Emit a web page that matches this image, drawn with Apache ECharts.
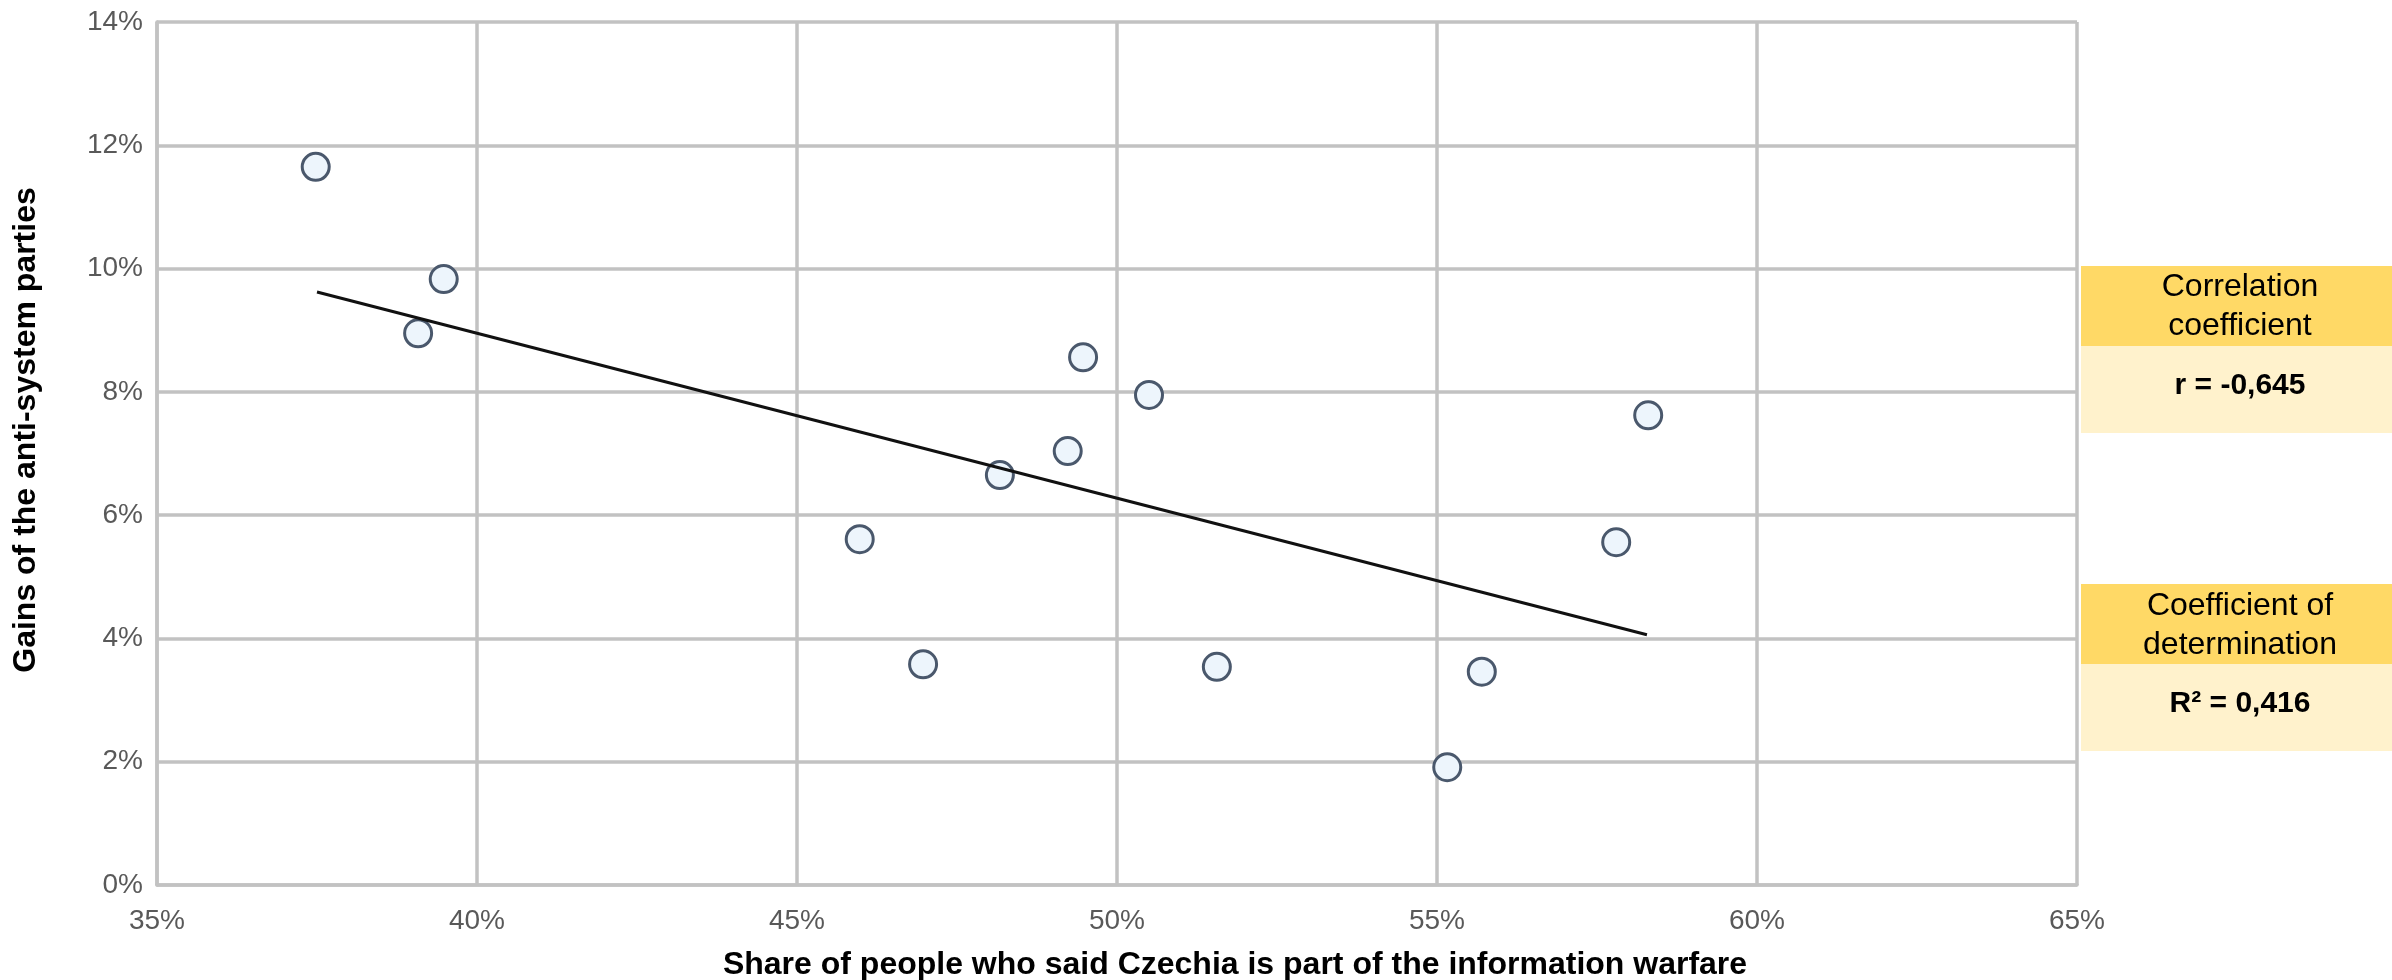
<!DOCTYPE html>
<html>
<head>
<meta charset="utf-8">
<script src="https://cdn.jsdelivr.net/npm/echarts@6/dist/echarts.min.js"></script>
<style>
html,body{margin:0;padding:0;background:#fff;}
#chart{width:2392px;height:980px;}
</style>
</head>
<body>
<div id="chart"></div>
<script>
// Share of people who said Czechia is part of the information warfare (%)
const shareWarfare = [37.48, 39.48, 39.08, 45.98, 46.97, 48.17, 49.23, 49.47, 50.5, 51.56, 55.16, 55.7, 57.8, 58.3];
// Gains of the anti-system parties (%)
const antiSystemGains = [11.65, 9.83, 8.95, 5.61, 3.58, 6.65, 7.04, 8.56, 7.95, 3.54, 1.91, 3.46, 5.56, 7.62];
// Trend line endpoints
const trendX = [37.5, 58.28];
const trendY = [9.62, 4.06];
// Axis ticks
const xTicks = [35, 40, 45, 50, 55, 60, 65];
const yTicks = [0, 2, 4, 6, 8, 10, 12, 14];
// Statistics boxes
const corrTitle = 'Correlation\ncoefficient';
const corrValue = 'r = -0,645';
const detTitle = 'Coefficient of\ndetermination';
const detValue = 'R² = 0,416';
const xTitle = 'Share of people who said Czechia is part of the information warfare';
const yTitle = 'Gains of the anti-system parties';

const FONT = '"Liberation Sans", Arial, sans-serif';
const gridColor = '#c2c2c2';

const chart = echarts.init(document.getElementById('chart'), null, {renderer: 'canvas'});

const points = shareWarfare.map((x, i) => [x, antiSystemGains[i]]);
const trend = trendX.map((x, i) => [x, trendY[i]]);

const boxLeft = 2081, boxW = 311, textCx = 2240;

chart.setOption({
  animation: false,
  backgroundColor: '#ffffff',
  grid: {left: 157, top: 22, right: 315, bottom: 95, containLabel: false},
  xAxis: {
    type: 'value',
    min: xTicks[0], max: xTicks[xTicks.length - 1], interval: 5,
    axisLine: {show: true, lineStyle: {color: gridColor, width: 3.5}},
    axisTick: {show: false},
    splitLine: {show: true, lineStyle: {color: gridColor, width: 3.5}},
    axisLabel: {formatter: '{value}%', color: '#595959', fontSize: 28, fontFamily: FONT, margin: 22}
  },
  yAxis: {
    type: 'value',
    min: yTicks[0], max: yTicks[yTicks.length - 1], interval: 2,
    axisLine: {show: true, lineStyle: {color: gridColor, width: 3.5}},
    axisTick: {show: false},
    splitLine: {show: true, lineStyle: {color: gridColor, width: 3.5}},
    axisLabel: {formatter: '{value}%', color: '#595959', fontSize: 28, fontFamily: FONT, margin: 14}
  },
  series: [
    {
      type: 'scatter',
      data: points,
      symbol: 'circle',
      symbolSize: 27,
      itemStyle: {color: '#edf5fc', borderColor: '#4a586c', borderWidth: 3, opacity: 1},
      z: 2
    },
    {
      type: 'line',
      data: trend,
      symbol: 'none',
      lineStyle: {color: '#111111', width: 3},
      z: 3
    }
  ],
  graphic: [
    {type: 'text', x: 1235, y: 965,
     style: {text: xTitle, align: 'center', verticalAlign: 'middle',
             font: 'bold 32px ' + FONT, fill: '#000'}},
    {type: 'text', x: 26, y: 430, rotation: Math.PI / 2,
     style: {text: yTitle, align: 'center', verticalAlign: 'middle',
             font: 'bold 32px ' + FONT, fill: '#000'}},
    {type: 'rect', shape: {x: boxLeft, y: 266, width: boxW, height: 80}, style: {fill: '#ffd966'}},
    {type: 'rect', shape: {x: boxLeft, y: 346, width: boxW, height: 87}, style: {fill: '#fff2cc'}},
    {type: 'text', x: textCx, y: 307,
     style: {text: corrTitle, align: 'center', verticalAlign: 'middle',
             font: '32px ' + FONT, lineHeight: 39, fill: '#000'}},
    {type: 'text', x: textCx, y: 386,
     style: {text: corrValue, align: 'center', verticalAlign: 'middle',
             font: 'bold 30px ' + FONT, fill: '#000'}},
    {type: 'rect', shape: {x: boxLeft, y: 584, width: boxW, height: 80}, style: {fill: '#ffd966'}},
    {type: 'rect', shape: {x: boxLeft, y: 664, width: boxW, height: 87}, style: {fill: '#fff2cc'}},
    {type: 'text', x: textCx, y: 626,
     style: {text: detTitle, align: 'center', verticalAlign: 'middle',
             font: '32px ' + FONT, lineHeight: 39, fill: '#000'}},
    {type: 'text', x: textCx, y: 704,
     style: {text: detValue, align: 'center', verticalAlign: 'middle',
             font: 'bold 30px ' + FONT, fill: '#000'}}
  ]
});
</script>
</body>
</html>
